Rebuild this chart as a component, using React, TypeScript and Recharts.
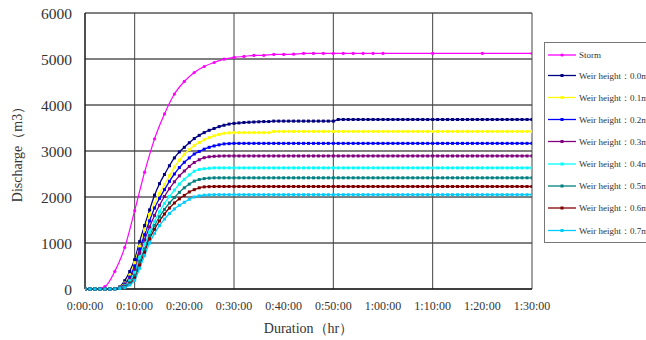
import { LineChart, Line, XAxis, YAxis, CartesianGrid } from "recharts";

// time in minutes, one reading per minute for the weir runs
const minutes = [
  0, 1, 2, 3, 4, 5, 6, 7, 8, 9,
  10, 11, 12, 13, 14, 15, 16, 17, 18, 19,
  20, 21, 22, 23, 24, 25, 26, 27, 28, 29,
  30, 31, 32, 33, 34, 35, 36, 37, 38, 39,
  40, 41, 42, 43, 44, 45, 46, 47, 48, 49,
  50, 51, 52, 53, 54, 55, 56, 57, 58, 59,
  60, 61, 62, 63, 64, 65, 66, 67, 68, 69,
  70, 71, 72, 73, 74, 75, 76, 77, 78, 79,
  80, 81, 82, 83, 84, 85, 86, 87, 88, 89,
  90,
];

// storm hydrograph is sampled every 2 min, then every 10 min
const stormMinutes = [
  0, 2, 4, 6, 8, 10, 12, 14, 16, 18, 20, 22, 24, 26, 28, 30, 32, 34, 36, 38,
  40, 42, 44, 46, 48, 50, 52, 54, 56, 58, 60, 70, 80, 90,
];
const storm = [
  0, 0, 50, 383, 904, 1702, 2540, 3264, 3805, 4238, 4512, 4707, 4837, 4924, 4996, 5035, 5056, 5078, 5080, 5099,
  5100, 5105, 5121, 5121, 5121, 5121, 5121, 5121, 5121, 5121, 5121, 5121, 5121, 5121,
];

const weir00 = [
  0, 0, 0, 0, 0, 0, 12, 50, 180, 380,
  640, 1030, 1380, 1720, 2040, 2290, 2490, 2680, 2850, 2980,
  3080, 3180, 3270, 3340, 3400, 3450, 3490, 3530, 3560, 3585,
  3600, 3610, 3620, 3625, 3630, 3635, 3640, 3640, 3650, 3650,
  3650, 3650, 3650, 3650, 3650, 3650, 3650, 3650, 3650, 3650,
  3650, 3685, 3685, 3685, 3685, 3685, 3685, 3685, 3685, 3685,
  3685, 3685, 3685, 3685, 3685, 3685, 3685, 3685, 3685, 3685,
  3685, 3685, 3685, 3685, 3685, 3685, 3685, 3685, 3685, 3685,
  3685, 3685, 3685, 3685, 3685, 3685, 3685, 3685, 3685, 3685,
  3685,
];
const weir01 = [
  0, 0, 0, 0, 0, 0, 10, 40, 130, 300,
  570, 930, 1290, 1620, 1870, 2080, 2270, 2460, 2650, 2800,
  2930, 3030, 3120, 3185, 3245, 3290, 3330, 3360, 3385, 3395,
  3400, 3400, 3400, 3400, 3400, 3400, 3400, 3400, 3425, 3425,
  3425, 3425, 3425, 3425, 3425, 3425, 3425, 3425, 3425, 3425,
  3425, 3425, 3425, 3425, 3425, 3425, 3425, 3425, 3425, 3425,
  3425, 3425, 3425, 3425, 3425, 3425, 3425, 3425, 3425, 3425,
  3425, 3425, 3425, 3425, 3425, 3425, 3425, 3425, 3425, 3425,
  3425, 3425, 3425, 3425, 3425, 3425, 3425, 3425, 3425, 3425,
  3425,
];
const weir02 = [
  0, 0, 0, 0, 0, 0, 8, 35, 110, 260,
  500, 870, 1180, 1480, 1760, 1970, 2160, 2340, 2500, 2640,
  2755, 2850, 2935, 2990, 3040, 3080, 3110, 3135, 3155, 3160,
  3166, 3166, 3166, 3166, 3166, 3166, 3166, 3166, 3166, 3166,
  3166, 3166, 3166, 3166, 3166, 3166, 3166, 3166, 3166, 3166,
  3166, 3166, 3166, 3166, 3166, 3166, 3166, 3166, 3166, 3166,
  3166, 3166, 3166, 3166, 3166, 3166, 3166, 3166, 3166, 3166,
  3166, 3166, 3166, 3166, 3166, 3166, 3166, 3166, 3166, 3166,
  3166, 3166, 3166, 3166, 3166, 3166, 3166, 3166, 3166, 3166,
  3166,
];
const weir03 = [
  0, 0, 0, 0, 0, 0, 6, 30, 90, 220,
  430, 780, 1070, 1350, 1600, 1820, 2010, 2180, 2330, 2460,
  2565, 2665, 2750, 2810, 2855, 2875, 2885, 2890, 2892, 2892,
  2892, 2892, 2892, 2892, 2892, 2892, 2892, 2892, 2892, 2892,
  2892, 2892, 2892, 2892, 2892, 2892, 2892, 2892, 2892, 2892,
  2892, 2892, 2892, 2892, 2892, 2892, 2892, 2892, 2892, 2892,
  2892, 2892, 2892, 2892, 2892, 2892, 2892, 2892, 2892, 2892,
  2892, 2892, 2892, 2892, 2892, 2892, 2892, 2892, 2892, 2892,
  2892, 2892, 2892, 2892, 2892, 2892, 2892, 2892, 2892, 2892,
  2892,
];
const weir04 = [
  0, 0, 0, 0, 0, 0, 5, 25, 70, 180,
  360, 690, 970, 1240, 1470, 1680, 1860, 2010, 2150, 2280,
  2385, 2480, 2560, 2600, 2615, 2625, 2633, 2633, 2633, 2633,
  2633, 2633, 2633, 2633, 2633, 2633, 2633, 2633, 2633, 2633,
  2633, 2633, 2633, 2633, 2633, 2633, 2633, 2633, 2633, 2633,
  2633, 2633, 2633, 2633, 2633, 2633, 2633, 2633, 2633, 2633,
  2633, 2633, 2633, 2633, 2633, 2633, 2633, 2633, 2633, 2633,
  2633, 2633, 2633, 2633, 2633, 2633, 2633, 2633, 2633, 2633,
  2633, 2633, 2633, 2633, 2633, 2633, 2633, 2633, 2633, 2633,
  2633,
];
const weir05 = [
  0, 0, 0, 0, 0, 0, 4, 20, 55, 140,
  300, 600, 870, 1160, 1380, 1570, 1730, 1870, 1990, 2100,
  2200, 2280, 2345, 2380, 2400, 2410, 2417, 2417, 2417, 2417,
  2417, 2417, 2417, 2417, 2417, 2417, 2417, 2417, 2417, 2417,
  2417, 2417, 2417, 2417, 2417, 2417, 2417, 2417, 2417, 2417,
  2417, 2417, 2417, 2417, 2417, 2417, 2417, 2417, 2417, 2417,
  2417, 2417, 2417, 2417, 2417, 2417, 2417, 2417, 2417, 2417,
  2417, 2417, 2417, 2417, 2417, 2417, 2417, 2417, 2417, 2417,
  2417, 2417, 2417, 2417, 2417, 2417, 2417, 2417, 2417, 2417,
  2417,
];
const weir06 = [
  0, 0, 0, 0, 0, 0, 3, 15, 40, 110,
  240, 520, 800, 1090, 1300, 1480, 1630, 1760, 1870, 1960,
  2035, 2110, 2160, 2200, 2220, 2225, 2228, 2228, 2228, 2228,
  2228, 2228, 2228, 2228, 2228, 2228, 2228, 2228, 2228, 2228,
  2228, 2228, 2228, 2228, 2228, 2228, 2228, 2228, 2228, 2228,
  2228, 2228, 2228, 2228, 2228, 2228, 2228, 2228, 2228, 2228,
  2228, 2228, 2228, 2228, 2228, 2228, 2228, 2228, 2228, 2228,
  2228, 2228, 2228, 2228, 2228, 2228, 2228, 2228, 2228, 2228,
  2228, 2228, 2228, 2228, 2228, 2228, 2228, 2228, 2228, 2228,
  2228,
];
const weir07 = [
  0, 0, 0, 0, 0, 0, 2, 10, 30, 90,
  190, 450, 730, 1000, 1210, 1380, 1520, 1640, 1740, 1820,
  1885, 1950, 2000, 2025, 2040, 2045, 2050, 2050, 2050, 2050,
  2050, 2050, 2050, 2050, 2050, 2050, 2050, 2050, 2050, 2050,
  2050, 2050, 2050, 2050, 2050, 2050, 2050, 2050, 2050, 2050,
  2050, 2050, 2050, 2050, 2050, 2050, 2050, 2050, 2050, 2050,
  2050, 2050, 2050, 2050, 2050, 2050, 2050, 2050, 2050, 2050,
  2050, 2050, 2050, 2050, 2050, 2050, 2050, 2050, 2050, 2050,
  2050, 2050, 2050, 2050, 2050, 2050, 2050, 2050, 2050, 2050,
  2050,
];

const seriesNames = [
  "Storm",
  "Weir height：0.0m",
  "Weir height：0.1m",
  "Weir height：0.2m",
  "Weir height：0.3m",
  "Weir height：0.4m",
  "Weir height：0.5m",
  "Weir height：0.6m",
  "Weir height：0.7m",
];
const seriesColors = ["#FF00FF", "#000080", "#FFFF00", "#0000FF", "#800080", "#00FFFF", "#008080", "#800000", "#00CCFF"];

const xTicks = [0, 10, 20, 30, 40, 50, 60, 70, 80, 90];
const xTickLabels = ["0:00:00", "0:10:00", "0:20:00", "0:30:00", "0:40:00", "0:50:00", "1:00:00", "1:10:00", "1:20:00", "1:30:00"];
const yTicks = [0, 1000, 2000, 3000, 4000, 5000, 6000];

const weirValues = [weir00, weir01, weir02, weir03, weir04, weir05, weir06, weir07];

const stormData = stormMinutes.map((t, i) => ({ t, q: storm[i] }));
const weirData = weirValues.map((vals) => minutes.map((t, i) => ({ t, q: vals[i] })));

const serif = "Liberation Serif";

function squareDot(color: string) {
  return (props: any) => {
    const { cx, cy, index } = props;
    if (cx == null || cy == null) return <g key={index} />;
    return <rect key={index} x={cx - 1.5} y={cy - 1.5} width={3} height={3} fill={color} />;
  };
}

function LegendBox() {
  const rowY = [55, 75.5, 97.5, 119.5, 141.5, 164, 186, 208, 230.5];
  return (
    <svg width={110} height={204} style={{ position: "absolute", left: 543, top: 40 }}>
      <rect x={1.5} y={2.5} width={120} height={200} fill="#fff" stroke="#777" strokeWidth={1} />
      {seriesNames.map((name, i) => {
        const y = rowY[i] - 40;
        return (
          <g key={name}>
            <line x1={5} x2={33} y1={y} y2={y} stroke={seriesColors[i]} strokeWidth={1.3} />
            {i === 0 ? (
              <circle cx={19} cy={y} r={1.6} fill={seriesColors[i]} />
            ) : (
              <rect x={17.5} y={y - 1.5} width={3} height={3} fill={seriesColors[i]} />
            )}
            <text x={36} y={y + 3.2} fontSize={9} style={{ fontFamily: serif }} fill="#333">
              {name}
            </text>
          </g>
        );
      })}
    </svg>
  );
}

export default function App() {
  return (
    <div
      style={{
        position: "absolute",
        left: 0,
        top: 0,
        width: 646,
        height: 340,
        overflow: "hidden",
        background: "#fff",
        fontFamily: serif,
      }}
    >
      <LineChart width={646} height={340} margin={{ top: 13, right: 114, bottom: 0, left: 0 }} style={{ fontFamily: serif }}>
        <CartesianGrid horizontal={true} vertical={false} stroke="#000" strokeWidth={1} />
        <CartesianGrid horizontal={false} vertical={true} stroke="#444" strokeWidth={1} />
        <XAxis
          type="number"
          dataKey="t"
          domain={[0, 90]}
          ticks={xTicks}
          tickFormatter={(v: number) => xTickLabels[xTicks.indexOf(v)]}
          allowDataOverflow
          height={51}
          stroke="#000"
          tickSize={0}
          tickMargin={12.5}
          tick={{ fontSize: 12, fill: "#333", style: { fontFamily: serif } }}
          label={{ value: "Duration（hr）", position: "insideBottom", offset: 7, style: { fontSize: 14, fontFamily: serif, fill: "#333" } }}
        />
        <YAxis
          type="number"
          domain={[0, 6000]}
          ticks={yTicks}
          width={85}
          stroke="#000"
          tickSize={0}
          tickMargin={13}
          tick={{ fontSize: 15.5, fill: "#333", style: { fontFamily: serif } }}
          label={{
            value: "Discharge（m3）",
            angle: -90,
            position: "insideLeft",
            offset: 17,
            style: { textAnchor: "middle", fontSize: 14, fontFamily: serif, fill: "#333" },
          }}
        />
        <Line
          data={stormData}
          dataKey="q"
          type="monotone"
          stroke={seriesColors[0]}
          strokeWidth={1.2}
          dot={{ r: 1.6, fill: seriesColors[0], stroke: "none" }}
          isAnimationActive={false}
        />
        {weirData.map((d, i) => (
          <Line
            key={seriesNames[i + 1]}
            data={d}
            dataKey="q"
            type="monotone"
            stroke={seriesColors[i + 1]}
            strokeWidth={1.3}
            dot={squareDot(seriesColors[i + 1])}
            isAnimationActive={false}
          />
        ))}
      </LineChart>
      <LegendBox />
    </div>
  );
}
